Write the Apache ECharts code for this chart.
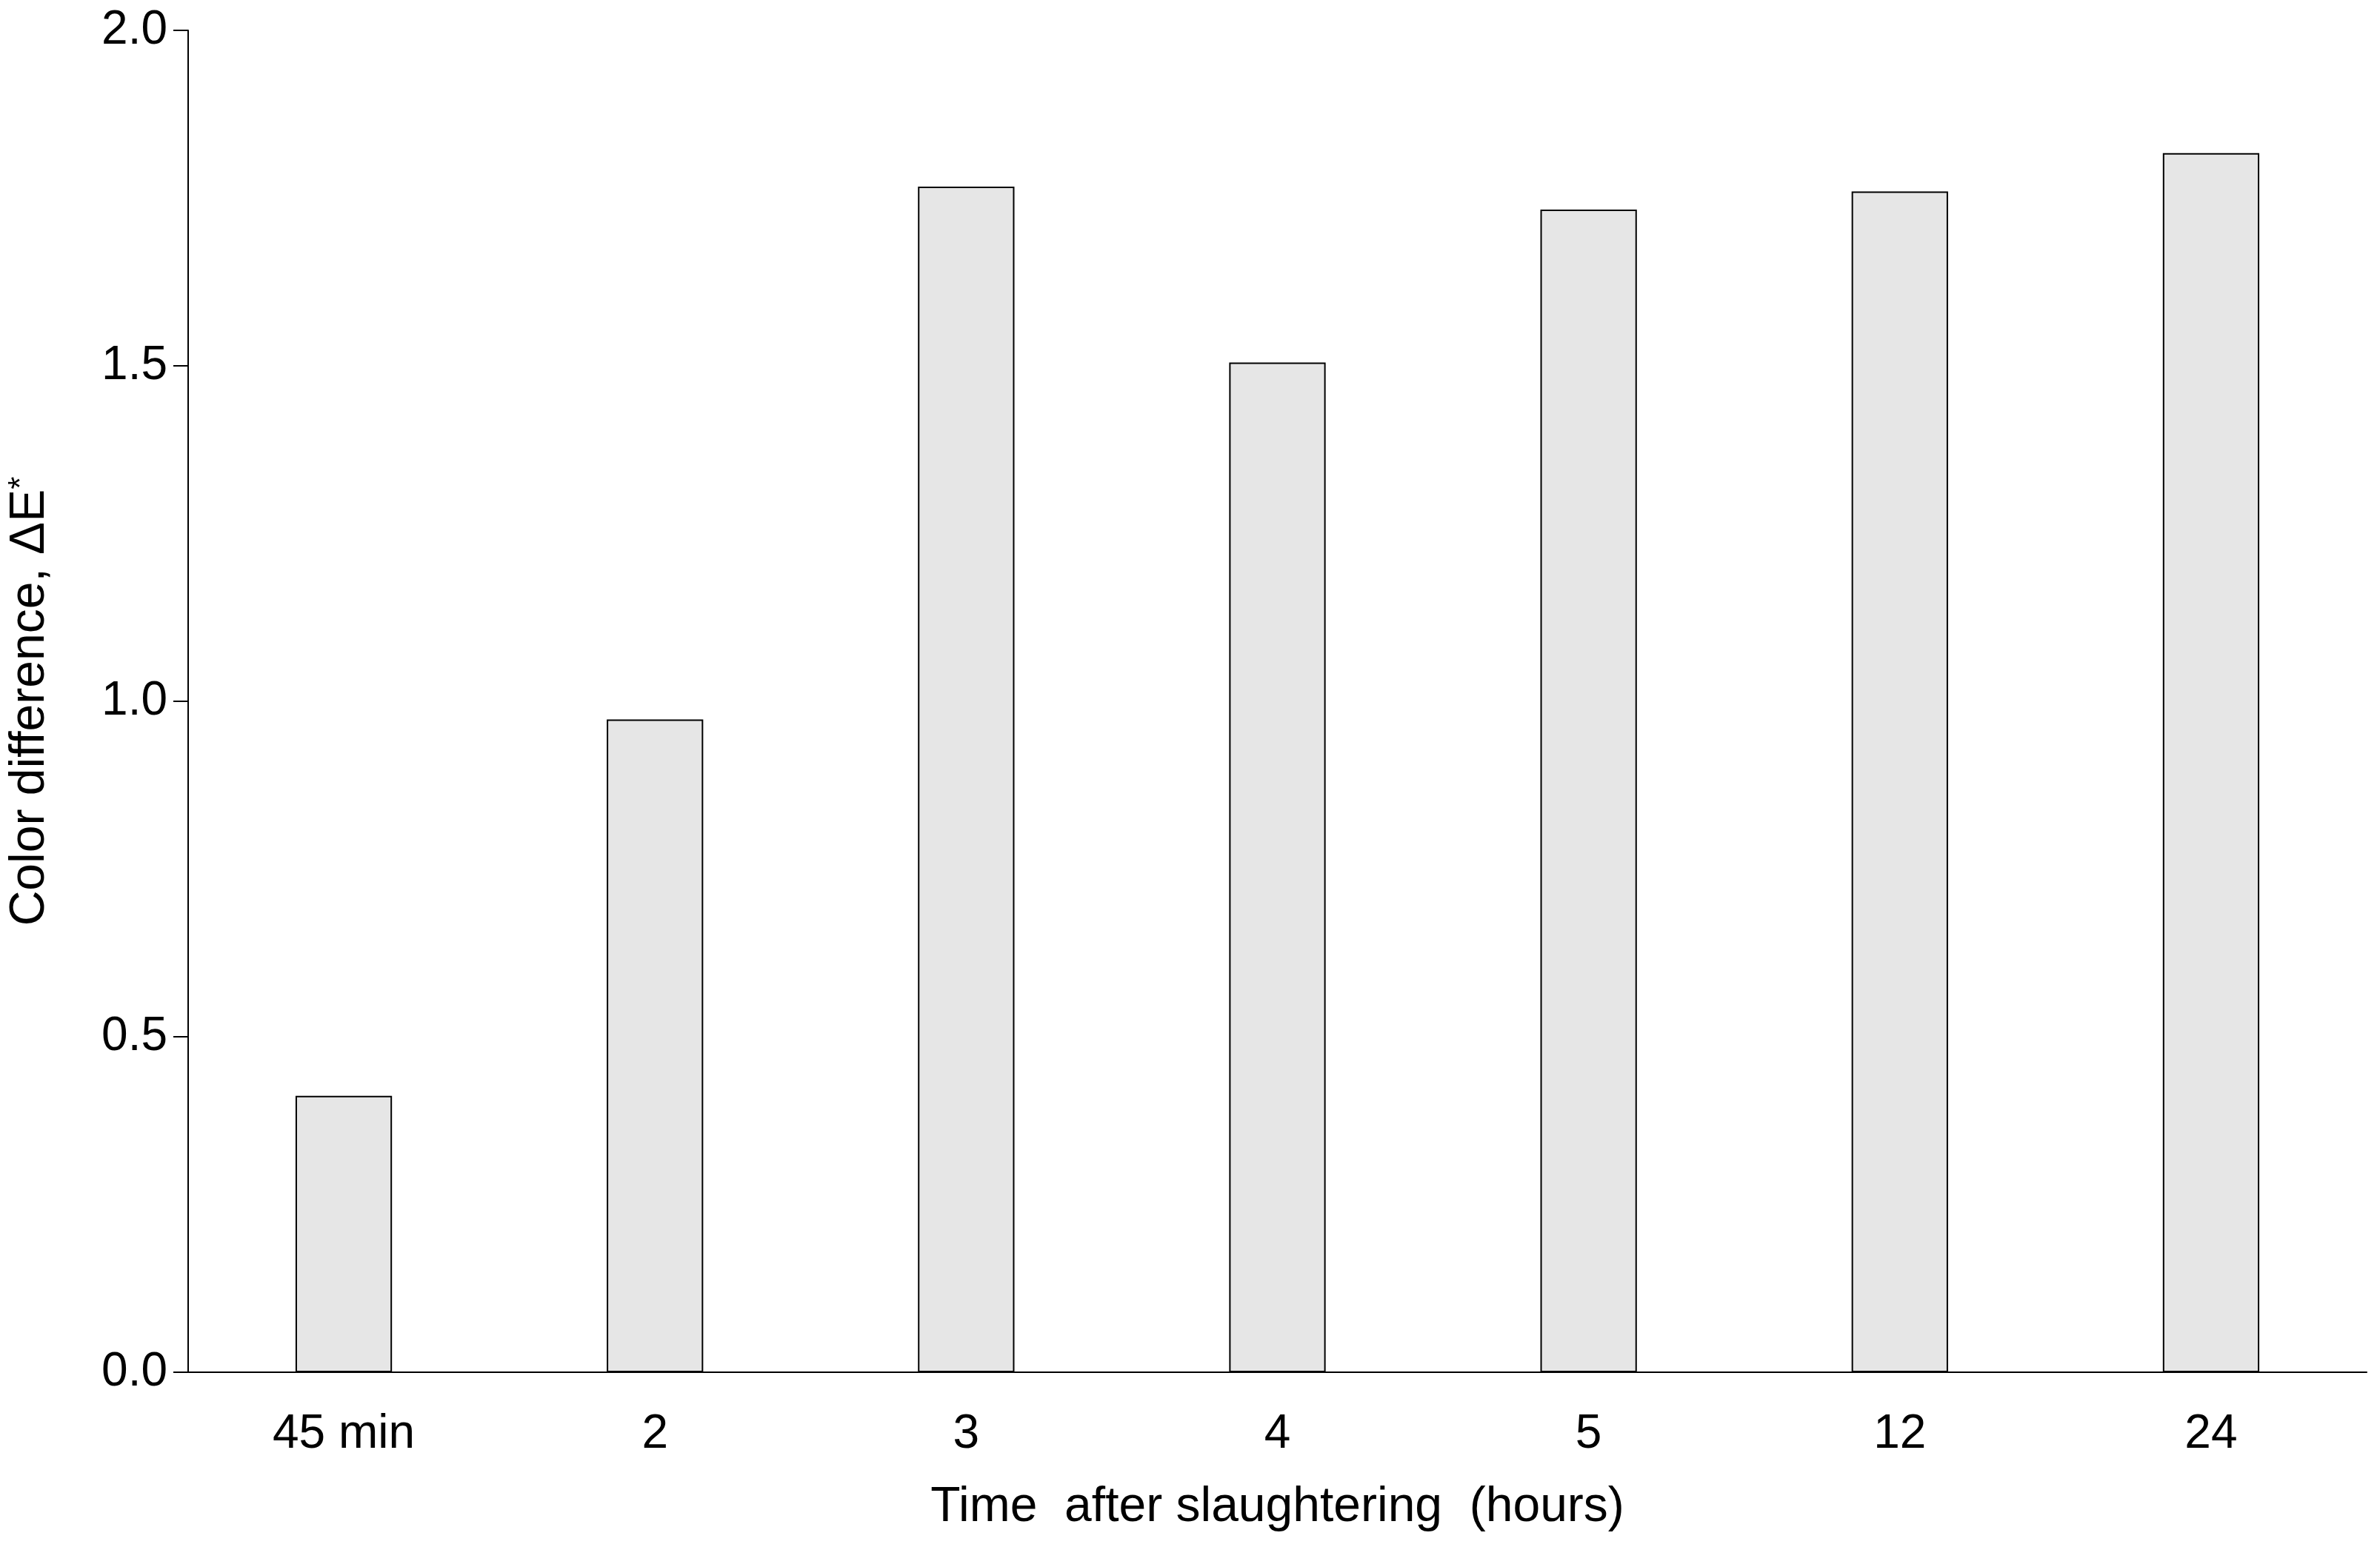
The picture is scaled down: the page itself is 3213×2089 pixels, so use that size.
<!DOCTYPE html><html><head><meta charset="utf-8"><script src="https://cdn.jsdelivr.net/npm/echarts@6/dist/echarts.min.js"></script>
<style>html,body{margin:0;padding:0;background:#fff}#c{width:3213px;height:2089px}</style></head><body><div id="c"></div><script>
const categories=['45 min','2','3','4','5','12','24'];
const values=[0.412,0.973,1.767,1.505,1.733,1.760,1.817];
const yTicks=[0,0.5,1,1.5,2];
const ch=echarts.init(document.getElementById('c'));
const F='Liberation Sans, Arial, sans-serif';
ch.setOption({
 animation:false,
 grid:{left:238,right:18,top:41,bottom:236},
 xAxis:{type:'category',data:categories,
  axisLine:{lineStyle:{color:'#000',width:2}},axisTick:{show:false},
  axisLabel:{color:'#000',fontSize:64,fontFamily:F,margin:52},
  name:'Time  after slaughtering  (hours)',nameLocation:'middle',nameGap:150,
  nameTextStyle:{color:'#000',fontSize:66,fontFamily:F}},
 yAxis:{type:'value',min:0,max:2,interval:0.5,
  axisLine:{show:true,lineStyle:{color:'#000',width:2}},
  axisTick:{show:true,length:20,lineStyle:{color:'#000',width:2}},
  splitLine:{show:false},
  axisLabel:{color:'#000',fontSize:64,fontFamily:F,margin:28,formatter:v=>v.toFixed(1)},
  name:'{a|Color difference, ΔE}{s|*}',nameLocation:'middle',nameGap:180,
  nameTextStyle:{rich:{a:{color:'#000',fontSize:66,fontFamily:F},s:{color:'#000',fontSize:44,fontFamily:F,verticalAlign:'top',padding:[0,0,22,0]}}}},
 series:[{type:'bar',data:values,barWidth:'31%',
  itemStyle:{color:'#e6e6e6',borderColor:'#000',borderWidth:2}}]
});
</script></body></html>
